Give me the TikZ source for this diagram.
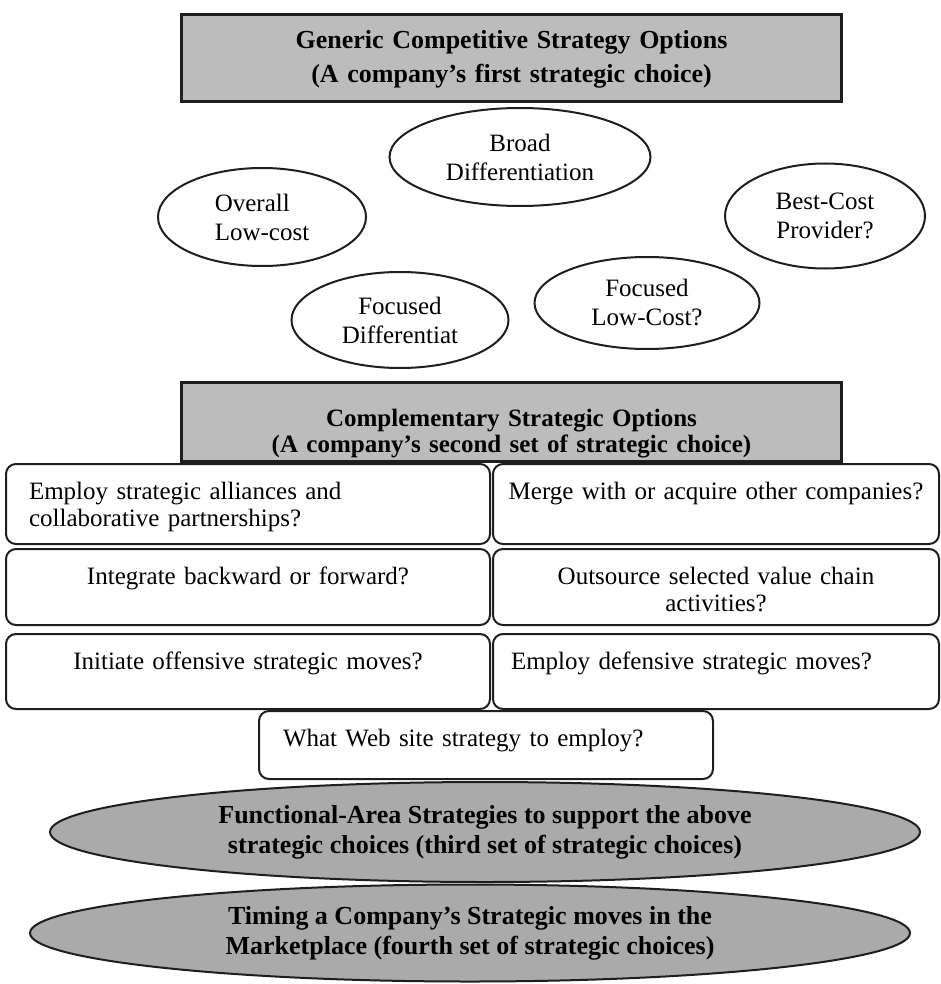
\documentclass[tikz,border=0pt]{standalone}
\usepackage{xcolor}
\usepackage{tikz}
\usepackage{fontspec}
\setmainfont{Liberation Serif}
\usetikzlibrary{shapes.geometric}

\definecolor{hdrgray}{RGB}{188,188,188}
\definecolor{lensgray}{RGB}{170,170,170}
\definecolor{inkline}{RGB}{30,30,30}
\hyphenpenalty=10000

\begin{document}
\begin{tikzpicture}[x=1pt, y=-1pt,
                        header/.style={rectangle, draw=inkline, fill=hdrgray, line width=3pt, inner sep=0pt, text width=660pt, align=center, anchor=north west},
                        choice/.style={ellipse, draw=inkline, line width=2pt, inner sep=0pt, align=center, font=\fontsize{25}{29}\selectfont},
                        optbox/.style={rectangle, rounded corners=10pt, draw=inkline, line width=2pt, inner ysep=0pt, text height=35pt, anchor=north west, font=\fontsize{25}{27}\selectfont},
                        leftopt/.style={optbox, inner xsep=23pt, text width=438pt},
                        rightopt/.style={optbox, inner xsep=18pt, text width=410pt},
                        lens/.style={ellipse, draw=inkline, fill=lensgray, line width=2pt, inner sep=0pt, align=center, font=\bfseries\fontsize{26}{30}\selectfont}]
                        \useasboundingbox (0, 0) rectangle (940, 984);

                        \node (generic) at (180, 13) [header, text height=34pt, text depth=53pt, font=\bfseries\fontsize{26}{34}\selectfont] {Generic Competitive Strategy Options\\(A company’s first strategic choice)};

                        \node (broad) at (520, 157) [choice, minimum width=261pt, minimum height=98pt] {Broad\\Differentiation};
                        \node (overall) at (262, 217) [choice, align=left, minimum width=208pt, minimum height=98pt] {Overall\\Low-cost};
                        \node (bestcost) at (825, 216) [choice, minimum width=200pt, minimum height=105pt] {Best-Cost\\Provider?};
                        \node (focdiff) at (400, 320) [choice, minimum width=217pt, minimum height=96pt] {Focused\\Differentiat};
                        \node (foclow) at (647, 303) [choice, minimum width=225pt, minimum height=92pt] {Focused\\Low-Cost?};

                        \node (complement) at (180, 381) [header, text height=44pt, text depth=35pt, font=\bfseries\fontsize{25}{26}\selectfont] {Complementary Strategic Options\\(A company’s second set of strategic choice)};

                        \node (alliance) at (5, 463) [leftopt, align=left, text depth=45pt] {Employ strategic alliances and\\collaborative partnerships?};
                        \node (merge) at (492, 463) [rightopt, inner xsep=8pt, text width=430pt, align=center, text depth=45pt] {Merge with or acquire other companies?};
                        \node (integrate) at (5, 548) [leftopt, align=center, text depth=41pt] {Integrate backward or forward?};
                        \node (outsource) at (492, 548) [rightopt, align=center, text depth=41pt] {Outsource selected value chain\\activities?};
                        \node (offensive) at (5, 633) [leftopt, align=center, text depth=40pt] {Initiate offensive strategic moves?};
                        \node (defensive) at (492, 633) [rightopt, align=left, text depth=40pt] {Employ defensive strategic moves?};
                        \node (website) at (258, 710) [optbox, inner xsep=24pt, text width=406pt, align=left, text depth=33pt] {What Web site strategy to employ?};

                        \node (functional) at (485, 832) [lens, minimum width=870pt, minimum height=100pt] {Functional-Area Strategies to support the above\\strategic choices (third set of strategic choices)};
                        \node (timing) at (470, 933) [lens, minimum width=880pt, minimum height=97pt] {Timing a Company’s Strategic moves in the\\Marketplace (fourth set of strategic choices)};
                    \end{tikzpicture}
\end{document}
